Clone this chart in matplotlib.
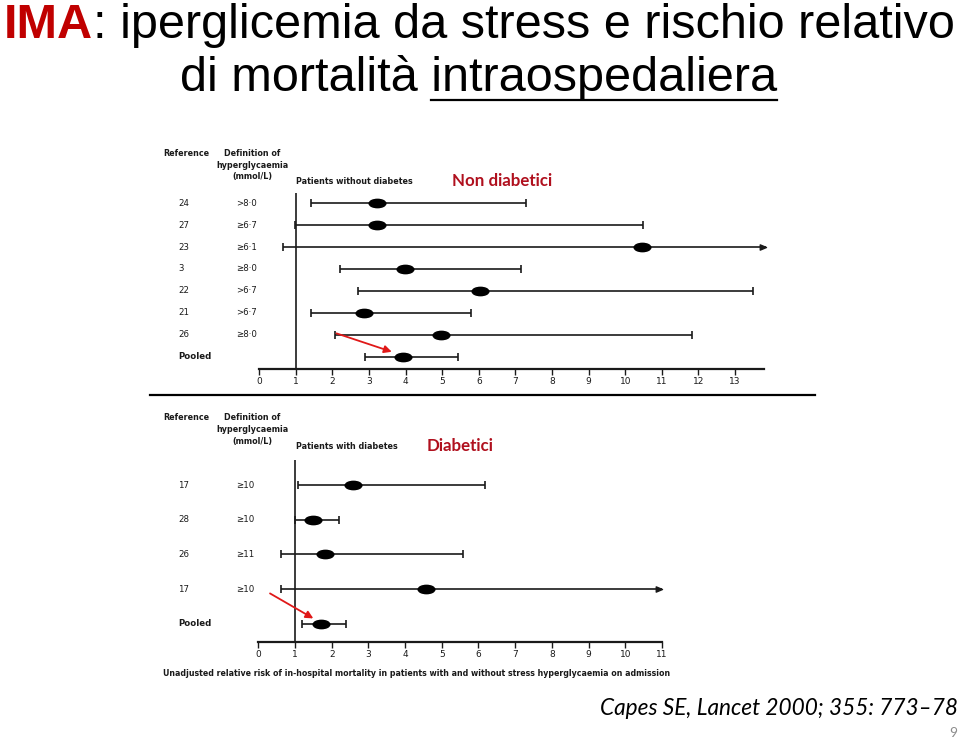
import numpy as np
import matplotlib
matplotlib.use('Agg')
import matplotlib.pyplot as plt
import matplotlib.transforms as mtransforms
from matplotlib.path import Path
from matplotlib.lines import Line2D

# Patients without diabetes (Non diabetici)
refs_nd = ['24', '27', '23', '3', '22', '21', '26', 'Pooled']
defs_nd = ['>8·0', '≥6·7', '≥6·1', '≥8·0', '>6·7', '>6·7', '≥8·0', '']
rr_nd = [3.22, 3.22, 10.46, 3.97, 6.02, 2.87, 4.96, 3.94]
lo_nd = [1.41, 0.97, 0.65, 2.21, 2.69, 1.41, 2.08, 2.88]
hi_nd = [7.29, 10.49, 13.85, 7.15, 13.50, 5.78, 11.81, 5.42]
open_nd = [False, False, True, False, False, False, False, False]
ticks_nd = list(range(14))

# Patients with diabetes (Diabetici)
refs_d = ['17', '28', '26', '17', 'Pooled']
defs_d = ['≥10', '≥10', '≥11', '≥10', '']
rr_d = [2.59, 1.50, 1.81, 4.56, 1.71]
lo_d = [1.09, 1.00, 0.62, 0.62, 1.20]
hi_d = [6.17, 2.21, 5.58, 11.0, 2.39]
open_d = [False, False, False, True, False]
ticks_d = list(range(12))

# red arrows pointing at the pooled estimates: (x, row) start -> end
arrow_nd = [(2.11, 5.94), (3.62, 6.78)]
arrow_d = [(0.32, 3.12), (1.50, 3.84)]

W, H = 960, 741
ink = '#1a1a1a'
red = '#C00000'


def fx(x):
    return x / W


def fy(y):
    return 1 - y / H


ellipse = Path.unit_circle().transformed(mtransforms.Affine2D().scale(1, 0.5))
arrow_head = Path([(0, 0), (-1, 0.42), (-1, -0.42), (0, 0)],
                  [Path.MOVETO, Path.LINETO, Path.LINETO, Path.CLOSEPOLY])

fig = plt.figure(figsize=(W / 100, H / 100), dpi=100)
fig.patch.set_facecolor('white')


def forest(ax, est, lo, hi, open_end, ticks, xend, arrow):
    y = np.arange(len(est))
    lo = np.array(lo)
    hi = np.array(hi)
    op = np.array(open_end)
    ax.hlines(y, lo, hi, color=ink, lw=1.2)
    ax.plot(lo, y, ls='none', marker='|', ms=5.5, mew=1.2, color=ink, clip_on=False)
    ax.plot(hi[~op], y[~op], ls='none', marker='|', ms=5.5, mew=1.2, color=ink, clip_on=False)
    ax.plot(hi[op], y[op], ls='none', marker=arrow_head, ms=9, color=ink, clip_on=False)
    ax.plot(est, y, ls='none', marker=ellipse, ms=12, color='black', clip_on=False)
    ax.axvline(1, color=ink, lw=1.2)
    ax.annotate('', xy=arrow[1], xytext=arrow[0],
                arrowprops=dict(arrowstyle='-|>', color='#E01818', lw=1.3,
                                mutation_scale=11, shrinkA=0, shrinkB=0))
    for s in ['left', 'right', 'top']:
        ax.spines[s].set_visible(False)
    ax.spines['bottom'].set_bounds(0, xend)
    ax.spines['bottom'].set_linewidth(1.6)
    ax.spines['bottom'].set_color(ink)
    ax.set_xticks(ticks)
    ax.set_yticks([])
    ax.tick_params(axis='x', direction='out', length=4.3, width=1, pad=1.5,
                   labelsize=6.5, colors=ink)
    ax.patch.set_visible(False)


# top panel
ax1 = fig.add_axes([fx(255.6), fy(369.3), (771.7 - 255.6) / W, (369.3 - 193) / H])
ax1.set_xlim(-0.1, 14)
ax1.set_ylim(7.58, -0.47)
forest(ax1, rr_nd, lo_nd, hi_nd, open_nd, ticks_nd, 13.8, arrow_nd)

# bottom panel
ax2 = fig.add_axes([fx(254.6), fy(641.7), (673.0 - 254.6) / W, (641.7 - 460) / H])
ax2.set_xlim(-0.1, 11.3)
ax2.set_ylim(4.51, -0.72)
forest(ax2, rr_d, lo_d, hi_d, open_d, ticks_d, 11, arrow_d)

small = dict(family='DejaVu Sans', color=ink)
for ax, refs, defs in [(ax1, refs_nd, defs_nd), (ax2, refs_d, defs_d)]:
    tr = mtransforms.blended_transform_factory(fig.transFigure, ax.transData)
    for i, (r, d) in enumerate(zip(refs, defs)):
        ax.text(fx(178), i, r, transform=tr, ha='left', va='center', fontsize=6.2,
                fontweight='bold' if r == 'Pooled' else 'normal', **small)
        ax.text(fx(236), i, d, transform=tr, ha='left', va='center', fontsize=6.2, **small)

# column headers
for top, label, lab_y, name, name_x in [(153, 'Patients without diabetes', 181.5, 'Non diabetici', 452),
                                        (417.7, 'Patients with diabetes', 446.7, 'Diabetici', 427)]:
    fig.text(fx(163), fy(top), 'Reference', ha='left', va='center', fontsize=5.8,
             fontweight='bold', **small)
    for k, t in enumerate(['Definition of', 'hyperglycaemia', '(mmol/L)']):
        fig.text(fx(252.5), fy(top + 12 * k), t, ha='center', va='center', fontsize=5.8,
                 fontweight='bold', **small)
    fig.text(fx(296), fy(lab_y), label, ha='left', va='center', fontsize=5.8,
             fontweight='bold', **small)
    fig.text(fx(name_x), fy(lab_y - 1), name, ha='left', va='center', fontsize=12.2,
             fontweight='bold', family=['Lato', 'DejaVu Sans'], color='#B0101E')

fig.text(fx(163), fy(673), 'Unadjusted relative risk of in-hospital mortality in patients with '
         'and without stress hyperglycaemia on admission', ha='left', va='center',
         fontsize=5.65, fontweight='bold', **small)

# separator between panels
fig.add_artist(Line2D([fx(150), fx(815)], [fy(394.5), fy(394.5)], transform=fig.transFigure,
                      color='black', lw=1.6))

# slide title
renderer = fig.canvas.get_renderer()
title_kw = dict(family=['Liberation Sans', 'DejaVu Sans'], fontsize=35, va='baseline', ha='left')
t = fig.text(fx(4), fy(38), 'IMA', color=red, fontweight='bold', **title_kw)
x_end = t.get_window_extent(renderer).x1
fig.text(x_end / W, fy(38), ': iperglicemia da stress e rischio relativo', color='black', **title_kw)

line2 = fig.text(fx(180), fy(91), 'di mortalità intraospedaliera', color='black', **title_kw)
bb2 = line2.get_window_extent(renderer)
probe = fig.text(0, 0, 'di mortalità i', **title_kw)
probe_i = fig.text(0, 0, 'i', **title_kw)
pre_w = probe.get_window_extent(renderer).width - probe_i.get_window_extent(renderer).width
probe.remove()
probe_i.remove()
fig.add_artist(Line2D([(bb2.x0 + pre_w) / W, bb2.x1 / W], [fy(99.5), fy(99.5)],
                      transform=fig.transFigure, color='black', lw=1.6))

# citation and page number
fig.text(fx(958), fy(715), 'Capes SE, Lancet 2000; 355: 773–78', ha='right', va='baseline',
         fontsize=16.3, fontstyle='italic', family=['Lato', 'DejaVu Sans'], color='black')
fig.text(fx(957), fy(733), '9', ha='right', va='center', fontsize=10,
         family=['Lato', 'DejaVu Sans'], color='#8c8c8c')

fig.savefig('out.png', dpi=100)
